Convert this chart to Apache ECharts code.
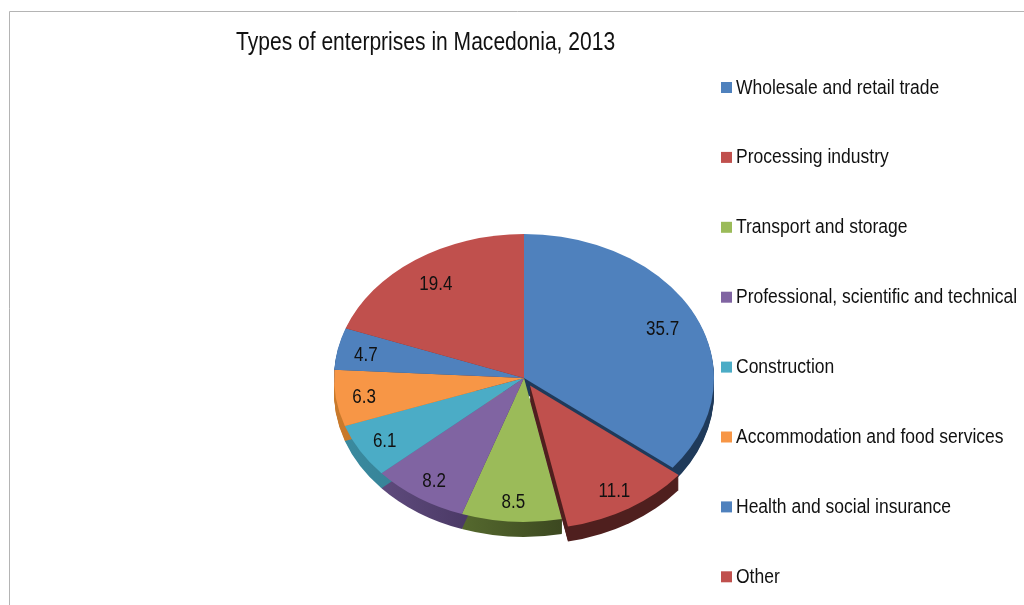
<!DOCTYPE html>
<html>
<head>
<meta charset="utf-8">
<style>html,body{margin:0;padding:0;background:#fff}#c{width:1024px;height:605px}</style>
<script src="https://cdn.jsdelivr.net/npm/echarts@6/dist/echarts.min.js"></script>
</head>
<body>
<div id="c"></div>
<script>
const titleText = 'Types of enterprises in Macedonia, 2013';
const categories = ['Wholesale and retail trade','Processing industry','Transport and storage','Professional, scientific and technical','Construction','Accommodation and food services','Health and social insurance','Other'];
const values = [35.7,11.1,8.5,8.2,6.1,6.3,4.7,19.4];
const topColors = ['#4F81BD','#C0504D','#9BBB59','#8064A2','#4BACC6','#F79646','#4F81BD','#C0504D'];
const wallLight = ['#1F3A5A','#4F1F1E','#55692E','#5E4A7C','#3A8A9F','#C97A2C','#2F4D72','#733030'];
const wallDark  = ['#1F3A5A','#4F1F1E','#3C4820','#3E2F57','#2F7285','#B56A22','#2F4D72','#733030'];
const explodedIndex = 1;

const FONT = '"Liberation Sans",Arial,sans-serif';
const CX = 524, CY = 378, RX = 190, RY = 144, DEPTH = 15, EXPLODE = 11.5;
const total = values.reduce((a, b) => a + b, 0);
const starts = [];
values.reduce((acc, v, i) => { starts[i] = acc; return acc + v; }, 0);

function renderSlice(i) {
  return function (params, api) {
    const v = api.value(0);
    const a0 = starts[i] / total * Math.PI * 2 - Math.PI / 2;
    const a1 = a0 + v / total * Math.PI * 2;
    const mid = (a0 + a1) / 2;
    const off = i === explodedIndex ? EXPLODE : 0;
    const base = i === explodedIndex ? 100 : 0;
    const labelR = v > 15 ? 0.81 : 0.85;
    const dx = Math.cos(mid) * off, dy = Math.sin(mid) * off;
    const shape = { cx: dx, cy: dy, r0: 0, r: RX, startAngle: a0, endAngle: a1, clockwise: true };
    const children = [];
    const wallFill = new echarts.graphic.LinearGradient(0, 0, 1, 0, [
      { offset: 0, color: wallLight[i] }, { offset: 1, color: wallDark[i] }
    ]);
    for (let d = DEPTH; d >= 1; d--) {
      children.push({
        type: 'group', x: CX, y: CY + d, scaleY: RY / RX,
        children: [{ type: 'sector', shape: Object.assign({}, shape), z2: base + 1, style: { fill: wallFill } }]
      });
    }
    children.push({
      type: 'group', x: CX, y: CY, scaleY: RY / RX,
      children: [{ type: 'sector', shape: Object.assign({}, shape), z2: base + 50, style: { fill: topColors[i] } }]
    });
    children.push({
      type: 'text', z2: 500, scaleX: 0.85,
      x: CX + (dx + Math.cos(mid) * RX * labelR),
      y: CY + 2 + (dy + Math.sin(mid) * RX * labelR) * RY / RX,
      style: { text: v.toFixed(1), fill: '#111', font: '20px ' + FONT, textAlign: 'center', textVerticalAlign: 'middle' }
    });
    return { type: 'group', children };
  };
}

const legendTexts = categories.map((name, i) => ({
  type: 'text', silent: true, x: 736, y: 88 + i * 69.9, scaleX: 0.875,
  style: { text: name, fill: '#111', font: '20px ' + FONT, textAlign: 'left', textVerticalAlign: 'middle' }
}));

const chart = echarts.init(document.getElementById('c'), null, { renderer: 'canvas' });
chart.setOption({
  animation: false,
  backgroundColor: '#fff',
  legend: {
    orient: 'vertical', left: 721, top: 82, padding: 0,
    itemWidth: 11, itemHeight: 11, itemGap: 58.9, icon: 'rect',
    data: categories, formatter: () => '',
    textStyle: { fontFamily: FONT, fontSize: 1, lineHeight: 1 }
  },
  graphic: [{
    type: 'rect', silent: true, shape: { x: 9.5, y: 11.5, width: 2000, height: 2000 },
    style: { fill: 'none', stroke: '#b4b4b4', lineWidth: 1 }
  }, {
    type: 'text', silent: true, x: 236, y: 43.5, scaleX: 0.842,
    style: { text: titleText, fill: '#111', font: '25px ' + FONT, textAlign: 'left', textVerticalAlign: 'middle' }
  }].concat(legendTexts),
  series: categories.map((name, i) => ({
    type: 'custom', name, coordinateSystem: 'none',
    itemStyle: { color: topColors[i] },
    data: [[values[i]]],
    renderItem: renderSlice(i)
  }))
});
</script>
</body>
</html>
